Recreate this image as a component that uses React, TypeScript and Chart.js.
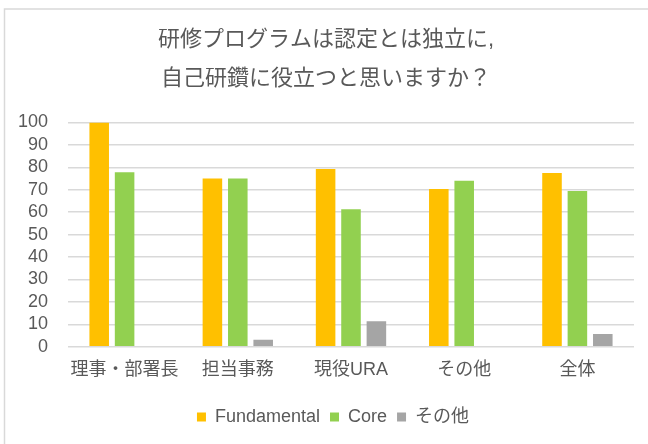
import React, { useEffect, useRef } from "react";
import { Chart, registerables } from "chart.js";

Chart.register(...registerables);

const categories = ["理事・部署長", "担当事務", "現役URA", "その他", "全体"];
const fundamental = [100, 75, 79.3, 70.3, 77.5];
const core = [77.8, 75, 61.3, 74, 69.4];
const other = [0, 3.1, 11.3, 0, 5.7];
const seriesNames = ["Fundamental", "Core", "その他"];
const titleLines = ["研修プログラムは認定とは独立に,", "自己研鑽に役立つと思いますか？"];

const FONT = "'Liberation Sans', 'Noto Sans CJK JP', sans-serif";
const TEXT = "#595959";

const framePlugin = {
  id: "frame",
  beforeDraw(chart: any) {
    const { ctx, width, height } = chart;
    ctx.save();
    ctx.fillStyle = "#ffffff";
    ctx.fillRect(0, 0, width, height);
    ctx.strokeStyle = "#d9d9d9";
    ctx.lineWidth = 1.5;
    ctx.strokeRect(4.5, 9, width + 20, height + 20);
    ctx.restore();
  },
};

const legendShift = {
  id: "legendShift",
  afterLayout(chart: any) {
    const l = chart.legend;
    if (l) {
      l.left += 7;
      l.right += 7;
    }
  },
};

export default function App() {
  const ref = useRef<HTMLCanvasElement>(null);
  useEffect(() => {
    if (!ref.current) return;
    const chart = new Chart(ref.current, {
      type: "bar",
      data: {
        labels: categories,
        datasets: [
          { label: seriesNames[0], data: fundamental, backgroundColor: "#FFC000" },
          { label: seriesNames[1], data: core, backgroundColor: "#92D050" },
          { label: seriesNames[2], data: other, backgroundColor: "#A5A5A5" },
        ],
      },
      options: {
        responsive: false,
        animation: false,
        devicePixelRatio: 1,
        datasets: { bar: { categoryPercentage: 0.673, barPercentage: 0.77 } },
        layout: { padding: { left: 18, right: 14, top: 0, bottom: 8 } },
        scales: {
          x: {
            grid: { display: false, drawTicks: false },
            border: { display: false },
            ticks: {
              color: TEXT,
              font: { family: FONT, size: 18 },
              padding: 13,
              maxRotation: 0,
              minRotation: 0,
              autoSkip: false,
            },
            afterFit(axis: any) {
              axis.height = 51.3;
            },
          },
          y: {
            min: 0,
            max: 100,
            grid: { color: "#d9d9d9", lineWidth: 1.5, drawTicks: false },
            border: { display: false },
            ticks: {
              stepSize: 10,
              autoSkip: false,
              color: TEXT,
              font: { family: FONT, size: 18 },
              padding: 20,
            },
            afterFit(axis: any) {
              axis.width = 50;
            },
          },
        },
        plugins: {
          title: {
            display: true,
            text: titleLines,
            color: TEXT,
            font: { family: FONT, size: 22, weight: "normal", lineHeight: 1.75 },
            padding: { top: 21, bottom: 24.5 },
          },
          legend: {
            position: "bottom",
            labels: {
              color: TEXT,
              font: { family: FONT, size: 18 },
              boxWidth: 9,
              boxHeight: 9,
              padding: 10,
            },
          },
          tooltip: { enabled: false },
        },
      },
      plugins: [framePlugin, legendShift],
    });
    return () => chart.destroy();
  }, []);
  return (
    <div style={{ position: "absolute", left: 0, top: 0, width: 648, height: 444 }}>
      <canvas ref={ref} width={648} height={444} style={{ display: "block" }} />
    </div>
  );
}
